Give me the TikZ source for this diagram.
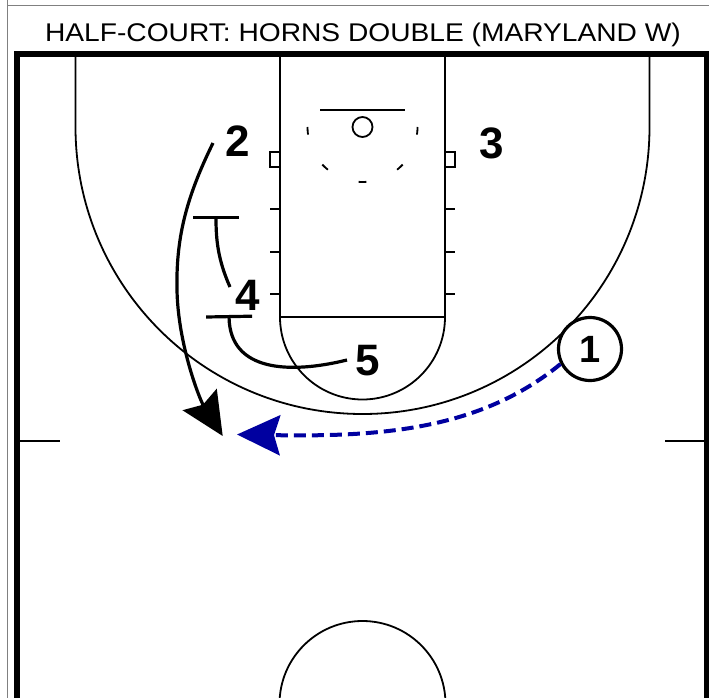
\documentclass[tikz,border=0pt]{standalone}
\usepackage{fontspec}
\setsansfont{Liberation Sans}
\usepackage{graphicx}
\usetikzlibrary{arrows.meta}
\definecolor{passblue}{RGB}{0,0,160}

\begin{document}
\begin{tikzpicture}[x=1pt, y=-1pt,
    court/.style={line width=1.8pt},
    thinrule/.style={line width=1pt, gray},
    bound/.style={line width=6pt},
    player/.style={font=\sffamily\bfseries\fontsize{44}{44}\selectfont,
                   inner sep=0pt, anchor=base},
    ball/.style={draw, circle, line width=3.2pt, minimum size=63pt,
                 inner sep=0pt, fill=white,
                 font=\sffamily\bfseries\fontsize{38}{38}\selectfont},
    cut/.style={-{Stealth[length=43pt, width=40pt, inset=6pt]}, line width=3.2pt},
    scr/.style={-{Bar[width=46pt]}, line width=3.2pt},
    pass/.style={-{Stealth[length=43pt, width=40pt, inset=6pt]}, line width=4pt,
                 passblue, dash pattern=on 12pt off 6pt},
]
\clip (0,0) rectangle (709,698);

% --- Frame and title ---
\draw[thinrule] (7,0) -- (7,698);
\draw[thinrule] (7,6) -- (709,6);
\node[anchor=base, font=\sffamily\fontsize{25.6}{26}\selectfont] (title) at (363,41.7)
    {\scalebox{1.1}[1]{HALF-COURT: HORNS DOUBLE (MARYLAND W)}};

% --- Court lines ---
\draw[court] (280,54) rectangle (445,317);
\draw[court] (75.5,54) -- (75.5,127) arc[start angle=180, end angle=0, radius=287] -- (649.5,54);
\draw[court] (280,317) arc[start angle=180, end angle=0, radius=82.5];
\draw[court] (362.5,704) circle[radius=83];
\draw[court] (320,110) -- (405,110);
\draw[court] (362.5,127) circle[radius=10];
\foreach \a in {4,47,90,133,176}
    \draw[court] (362.5,127) ++(\a-4:55) arc[start angle=\a-4, end angle=\a+4, radius=55];
\draw[court] (270,152) rectangle (280,167) (445,152) rectangle (455,167);
\foreach \y in {209,252,294}
    \draw[court] (270,\y) -- (280,\y) (445,\y) -- (455,\y);
\draw[court] (17,441) -- (60,441) (665,441) -- (707,441);

% --- Boundary ---
\draw[bound] (17,720) -- (17,54) -- (707,54) -- (707,720);

% --- Players ---
\node[player] (p2) at (237.5,156.7) {2};
\node[player] (p3) at (492,158) {3};
\node[player] (p4) at (247.5,310) {4};
\node[player] (p5) at (368,375) {5};
\node[ball] (p1) at (590,349) {1};

% --- Movement ---
\coordinate (c2) at (213,143);
\coordinate (c4) at (230,287);
\coordinate (c5) at (347,360);
\coordinate (s4) at (216,216);
\coordinate (s5) at (229,315);
\coordinate (dest2) at (222.7,436);
\coordinate (catch) at (237,434.5);

\draw[cut] (c2) .. controls (185,200) and (176,240) .. (177,290)
    .. controls (178,345) and (200,400) .. (dest2);
\draw[scr] (c4) .. controls (218,260) and (216,240) .. (s4);
\draw[scr] (c5) .. controls (290,374) and (230,372) .. (s5);
\draw[pass] (p1.207) .. controls (480,430) and (380,437) .. (catch);
\end{tikzpicture}
\end{document}
